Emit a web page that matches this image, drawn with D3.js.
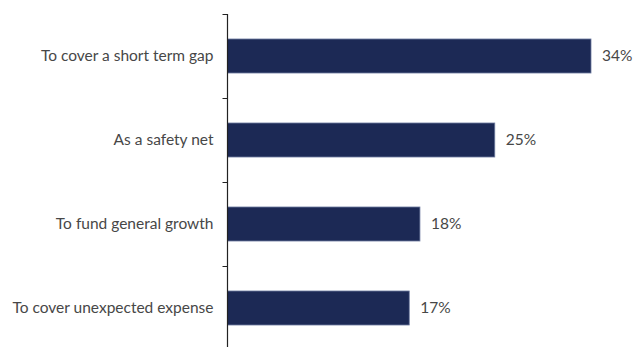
<!DOCTYPE html>
<html>
<head>
<meta charset="utf-8">
<script src="https://cdn.jsdelivr.net/npm/d3@7"></script>
<style>
  html, body { margin: 0; padding: 0; background: #fff; }
  svg { display: block; }
  text { font-family: Lato, "Noto Sans", sans-serif; font-weight: 400; fill: #474747; }
</style>
</head>
<body>
<svg id="chart" width="638" height="347"></svg>
<script>
const categories = ["To cover a short term gap", "As a safety net", "To fund general growth", "To cover unexpected expense"];
const values = [34, 25, 18, 17];
const valueLabels = ["34%", "25%", "18%", "17%"];

const svg = d3.select("#chart");
const axisX = 227.5;
const y = d3.scaleBand().domain(categories).range([14, 350]).paddingInner(0.595).paddingOuter(0.2975);
const x = d3.scaleLinear().domain([0, 34]).range([axisX, 591]);

// bars
svg.append("g").selectAll("rect").data(values).join("rect")
  .attr("x", x(0))
  .attr("y", (d, i) => y(categories[i]))
  .attr("width", d => x(d) - x(0))
  .attr("height", y.bandwidth())
  .attr("fill", "#1c2955")
  .attr("stroke", "#6f7ca0")
  .attr("stroke-width", 0.8);

// axis
const yAxis = d3.axisLeft(y).tickSize(0).tickPadding(14);
const gA = svg.append("g").attr("transform", `translate(${axisX},0)`).call(yAxis);
gA.select(".domain").remove();
gA.selectAll("text").style("font-size", "15.5px").attr("fill", "#474747");
// boundary ticks between bands
const bounds = [14, 98, 182, 266, 350];
svg.append("g").selectAll("line").data(bounds).join("line")
  .attr("x1", axisX - 5).attr("x2", axisX).attr("y1", d => d + 0.5).attr("y2", d => d + 0.5)
  .attr("stroke", "#222").attr("stroke-width", 1);
svg.append("line").attr("x1", axisX).attr("x2", axisX).attr("y1", 14).attr("y2", 350)
  .attr("stroke", "#222").attr("stroke-width", 1.2);

// value labels
svg.append("g").selectAll("text").data(values).join("text")
  .attr("x", d => x(d) + 11)
  .attr("y", (d, i) => y(categories[i]) + y.bandwidth() / 2)
  .attr("dy", "0.35em")
  .style("font-size", "15.5px")
  .text((d, i) => valueLabels[i]);
</script>
</body>
</html>
